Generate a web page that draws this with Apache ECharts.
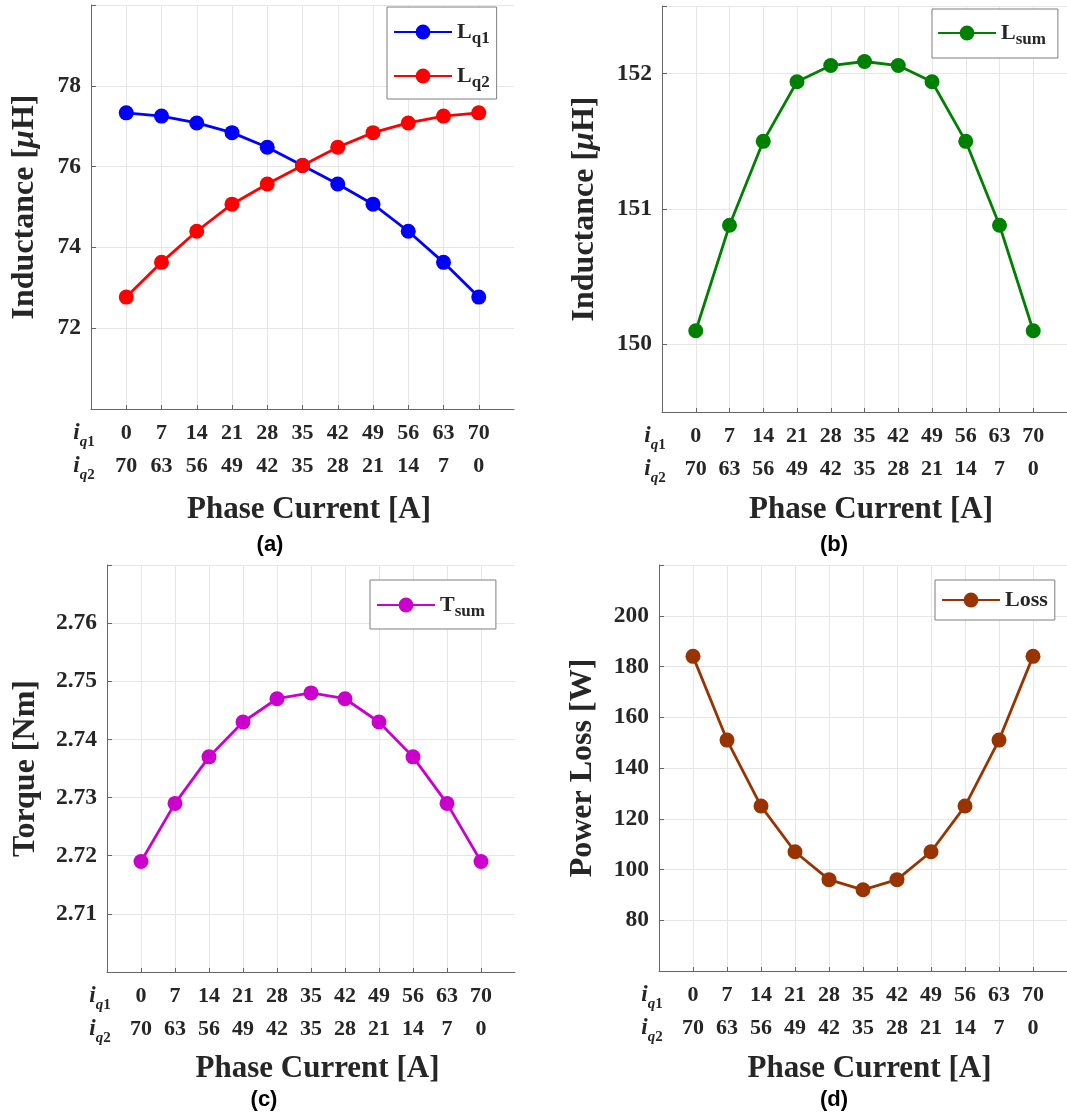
<!DOCTYPE html>
<html>
<head>
<meta charset="utf-8">
<script src="https://cdn.jsdelivr.net/npm/echarts@6/dist/echarts.min.js"></script>
<style>
  html, body { margin: 0; padding: 0; background: #ffffff; }
  #chart { width: 1067px; height: 1113px; }
</style>
</head>
<body>
<div id="chart"></div>
<script>
// Phase current split between the two q-axis windings
const iq1 = [0, 7, 14, 21, 28, 35, 42, 49, 56, 63, 70];
const iq2 = [70, 63, 56, 49, 42, 35, 28, 21, 14, 7, 0];

// (a) q-axis inductances [uH]
const Lq1 = [77.33, 77.25, 77.08, 76.84, 76.48, 76.03, 75.57, 75.07, 74.40, 73.63, 72.77];
const Lq2 = [72.77, 73.63, 74.40, 75.07, 75.57, 76.03, 76.48, 76.84, 77.08, 77.25, 77.33];
// (b) summed inductance [uH]
const Lsum = [150.10, 150.88, 151.50, 151.94, 152.06, 152.09, 152.06, 151.94, 151.50, 150.88, 150.10];
// (c) summed torque [Nm]
const Tsum = [2.719, 2.729, 2.737, 2.743, 2.747, 2.748, 2.747, 2.743, 2.737, 2.729, 2.719];
// (d) power loss [W]
const Loss = [184, 151, 125, 107, 96, 92, 96, 107, 125, 151, 184];

// y tick values per panel
const ticksA = [72, 74, 76, 78];
const ticksB = [150, 151, 152];
const ticksC = [2.71, 2.72, 2.73, 2.74, 2.75, 2.76];
const ticksD = [80, 100, 120, 140, 160, 180, 200];

const SERIF = "'Liberation Serif', 'Times New Roman', serif";
const TEXT = '#262626';
const AXIS = '#666666';
const GRID = '#e6e6e6';

const pos = iq1.map((_, i) => i);           // point positions on the x scale
const pairs = arr => arr.map((v, i) => [pos[i], v]);

const xRich = {
  n:  { fontFamily: SERIF, fontWeight: 'bold', fontSize: 22, lineHeight: 33, color: TEXT },
  ii: { fontFamily: SERIF, fontWeight: 'bold', fontStyle: 'italic', fontSize: 23, lineHeight: 33, color: TEXT },
  iq: { fontFamily: SERIF, fontWeight: 'bold', fontStyle: 'italic', fontSize: 15, lineHeight: 22, verticalAlign: 'bottom', color: TEXT },
  id: { fontFamily: SERIF, fontWeight: 'bold', fontSize: 15, lineHeight: 22, verticalAlign: 'bottom', color: TEXT, padding: [0, 14, 0, 0] }
};

function xAxisFor(gridIndex, nameGap) {
  return {
    type: 'value', gridIndex: gridIndex, min: -1, max: 11,
    axisLine: { onZero: false, lineStyle: { color: AXIS, width: 1 } },
    axisTick: { inside: true, length: 4, customValues: pos, lineStyle: { color: AXIS } },
    splitLine: { show: true, lineStyle: { color: GRID, width: 1 } },
    axisLabel: {
      customValues: [-1].concat(pos), margin: 8, rich: xRich,
      formatter: function (v) {
        const k = Math.round(v);
        if (k < 0) return '{ii|i}{iq|q}{id|1}\n{ii|i}{iq|q}{id|2}';
        return '{n|' + iq1[k] + '}\n{n|' + iq2[k] + '}';
      }
    },
    name: 'Phase Current [A]', nameLocation: 'middle', nameGap: nameGap,
    nameTextStyle: { fontFamily: SERIF, fontWeight: 'bold', fontSize: 31, color: TEXT, padding: [0, 0, 0, 13] }
  };
}

function yAxisFor(gridIndex, min, max, ticks, digits, name, nameGap) {
  return {
    type: 'value', gridIndex: gridIndex, min: min, max: max,
    axisLine: { show: true, onZero: false, lineStyle: { color: AXIS, width: 1 } },
    // a short tick also marks the top end of the axis
    axisTick: { show: true, inside: true, length: 5, customValues: ticks.concat([max]), lineStyle: { color: AXIS } },
    splitLine: { show: true, lineStyle: { color: GRID, width: 1 } },
    axisLabel: {
      customValues: ticks, margin: 10,
      fontFamily: SERIF, fontWeight: 'bold', fontSize: 23.5, color: TEXT,
      formatter: v => v.toFixed(digits)
    },
    name: name, nameLocation: 'middle', nameGap: nameGap,
    nameTextStyle: {
      fontFamily: SERIF, fontWeight: 'bold', fontSize: 32, color: TEXT,
      rich: {
        t:  { fontFamily: SERIF, fontWeight: 'bold', fontSize: 32, color: TEXT },
        mu: { fontFamily: SERIF, fontWeight: 'bold', fontStyle: 'italic', fontSize: 32, color: TEXT }
      }
    }
  };
}

const legendRich = {
  m: { fontFamily: SERIF, fontWeight: 'bold', fontSize: 22, lineHeight: 30, color: TEXT },
  s: { fontFamily: SERIF, fontWeight: 'bold', fontSize: 17, lineHeight: 16, verticalAlign: 'bottom', color: TEXT }
};
const legendLabels = {
  Lq1: '{m|L}{s|q1}', Lq2: '{m|L}{s|q2}', Lsum: '{m|L}{s|sum}', Tsum: '{m|T}{s|sum}', Loss: '{m|Loss}'
};
function legendFor(names, left, top, padding) {
  return {
    data: names, orient: 'vertical', left: left, top: top, padding: padding, itemGap: 18,
    itemWidth: 58, itemHeight: 18.5,
    backgroundColor: '#ffffff', borderColor: '#7f7f7f', borderWidth: 1, borderRadius: 0,
    selectedMode: false,
    formatter: name => legendLabels[name],
    textStyle: { fontFamily: SERIF, fontWeight: 'bold', fontSize: 22, color: TEXT, rich: legendRich }
  };
}

function lineSeries(name, data, color, idx) {
  return {
    name: name, type: 'line', xAxisIndex: idx, yAxisIndex: idx,
    data: pairs(data), symbol: 'circle', symbolSize: 15,
    lineStyle: { color: color, width: 2.8 },
    itemStyle: { color: color },
    emphasis: { disabled: true }, animation: false
  };
}

const CAPTION_FONT = "bold 22px 'Liberation Sans', Arial, sans-serif";
function caption(text, x, y) {
  return { type: 'text', style: { text: text, x: x, y: y, align: 'center', verticalAlign: 'middle', font: CAPTION_FONT, fill: '#000000' } };
}

const chart = echarts.init(document.getElementById('chart'), null, { renderer: 'canvas' });
chart.setOption({
  backgroundColor: '#ffffff',
  animation: false,
  grid: [
    { left: 91, top: 5, width: 423, height: 404 },
    { left: 662, top: 6, width: 411, height: 406 },
    { left: 107, top: 565, width: 408, height: 407 },
    { left: 659, top: 565, width: 414, height: 406 }
  ],
  xAxis: [xAxisFor(0, 85), xAxisFor(1, 82), xAxisFor(2, 81), xAxisFor(3, 82)],
  yAxis: [
    yAxisFor(0, 70, 80, ticksA, 0, '{t|Inductance [}{mu|μ}{t|H]}', 50),
    yAxisFor(1, 149.5, 152.5, ticksB, 0, '{t|Inductance [}{mu|μ}{t|H]}', 61),
    yAxisFor(2, 2.70, 2.77, ticksC, 2, 'Torque [Nm]', 65),
    yAxisFor(3, 60, 220, ticksD, 0, 'Power Loss [W]', 60)
  ],
  legend: [
    legendFor(['Lq1', 'Lq2'], 387, 7, [14, 7, 8, 6]),
    legendFor(['Lsum'], 932, 9, [13, 12, 10, 5]),
    legendFor(['Tsum'], 370, 580, [14, 11, 9, 6]),
    legendFor(['Loss'], 935, 580, [9, 7, 9, 6])
  ],
  series: [
    lineSeries('Lq1', Lq1, '#0000ff', 0),
    lineSeries('Lq2', Lq2, '#ff0000', 0),
    lineSeries('Lsum', Lsum, '#008000', 1),
    lineSeries('Tsum', Tsum, '#cc00cc', 2),
    lineSeries('Loss', Loss, '#993300', 3)
  ],
  graphic: [
    caption('(a)', 270, 545),
    caption('(b)', 834, 545),
    caption('(c)', 264, 1100),
    caption('(d)', 834, 1100)
  ]
});
</script>
</body>
</html>
